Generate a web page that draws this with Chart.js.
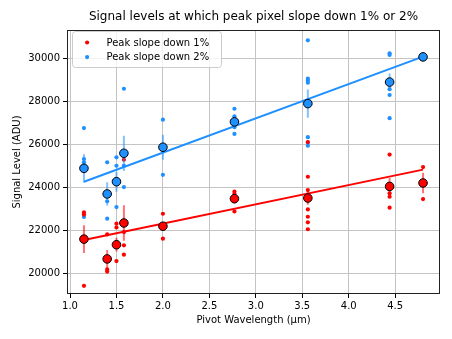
<!DOCTYPE html>
<html>
<head>
<meta charset="utf-8">
<script src="https://cdn.jsdelivr.net/npm/chart.js@4.4.0/dist/chart.umd.min.js"></script>
<style>
	html, body { margin: 0; padding: 0; background: #fff; }
</style>
</head>
<body>
<canvas id="main-chart" width="452" height="339"></canvas>
<script>
// pivot wavelength of each filter (um)
var pivot = [1.15, 1.40, 1.50, 1.58, 2.00, 2.77, 3.56, 4.44, 4.80];

// single measurements, one list per filter
var down1 = [
	[22850, 22750, 19440],
	[21830, 20200, 20100],
	[22330, 22150, 20590],
	[25300, 21940, 21320, 20890],
	[22790, 21630],
	[23820, 23720, 22900],
	[26120, 24510, 23890, 22990, 22650, 22390, 22070],
	[25540, 23740, 23580, 23070],
	[24960, 23470]
];
var down2 = [
	[26770, 25330, 25180, 22640],
	[25180, 23370, 22560],
	[25410, 25020, 23100],
	[28600, 25020, 24030],
	[27160, 24600],
	[27670, 27320, 26810, 26500],
	[30850, 29070, 28980, 28880, 26350, 26100, 25950],
	[30250, 30170, 28580, 28310, 27230],
	[30080]
];

// mean and spread per filter
var mean1 = [21610, 20690, 21350, 22360, 22210, 23490, 23520, 24060, 24220];
var err1 = [650, 420, 320, 830, 170, 220, 310, 390, 480];
var mean2 = [24900, 23710, 24280, 25600, 25880, 27060, 27910, 28910, 30080];
var err2 = [660, 540, 465, 820, 580, 200, 660, 400, 0];

// linear fits, given at first and last filter
var fitX = [1.15, 4.80];
var fit1 = [21570, 24840];
var fit2 = [24280, 30090];

var xTicks = [1.0, 1.5, 2.0, 2.5, 3.0, 3.5, 4.0, 4.5];
var yTicks = [20000, 22000, 24000, 26000, 28000, 30000];

var FONT = '"DejaVu Sans", sans-serif';

function points(xs, lists) {
	var out = [];
	xs.forEach(function(x, i) {
		lists[i].forEach(function(y) { out.push({x: x, y: y}); });
	});
	return out;
}

function bars(xs, ys, es) {
	var out = [];
	xs.forEach(function(x, i) {
		if (!es[i]) return;
		out.push({x: x, y: ys[i] - es[i]}, {x: x, y: ys[i] + es[i]}, {x: x, y: null});
	});
	return out;
}

function pairs(xs, ys) {
	return xs.map(function(x, i) { return {x: x, y: ys[i]}; });
}

// box round the plot area
var frame = {
	id: 'frame',
	afterDatasetsDraw: function(chart) {
		var a = chart.chartArea, ctx = chart.ctx;
		ctx.save();
		ctx.strokeStyle = '#222';
		ctx.lineWidth = 1;
		ctx.strokeRect(Math.round(a.left) + 0.5, Math.round(a.top) + 0.5,
			Math.round(a.right - a.left) - 1, Math.round(a.bottom - a.top) - 1);
		ctx.restore();
	}
};

// legend in upper left corner, like matplotlib
var legendBox = {
	id: 'legendBox',
	afterDraw: function(chart) {
		var a = chart.chartArea, ctx = chart.ctx;
		var x = a.left + 5.5, y = a.top + 1.5, w = 149, h = 36;
		ctx.save();
		ctx.fillStyle = 'rgba(255,255,255,0.8)';
		ctx.strokeStyle = '#cccccc';
		ctx.lineWidth = 1;
		ctx.beginPath();
		ctx.roundRect(x, y, w, h, 3);
		ctx.fill();
		ctx.stroke();
		ctx.font = '10px ' + FONT;
		ctx.textBaseline = 'middle';
		[0, 1].forEach(function(i) {
			var ds = chart.data.datasets[i];
			var cy = y + 11 + i * 14.6;
			ctx.fillStyle = ds.backgroundColor;
			ctx.beginPath();
			ctx.arc(x + 14.6, cy, 2.1, 0, Math.PI * 2);
			ctx.fill();
			ctx.fillStyle = '#000';
			ctx.fillText(ds.label, x + 34, cy + 0.5);
		});
		ctx.restore();
	}
};

var ctx = document.getElementById('main-chart');
var chart = new Chart(ctx, {
	type: 'scatter',
	data: {
		datasets: [
			{ label: 'Peak slope down 1%', data: points(pivot, down1), backgroundColor: 'red', borderWidth: 0, pointRadius: 2.1, order: 4 },
			{ label: 'Peak slope down 2%', data: points(pivot, down2), backgroundColor: '#1e90ff', borderWidth: 0, pointRadius: 2.1, order: 4 },
			{ label: 'err1', data: bars(pivot, mean1, err1), showLine: true, borderColor: 'rgba(255,0,0,0.55)', borderWidth: 2, pointRadius: 0, order: 3 },
			{ label: 'err2', data: bars(pivot, mean2, err2), showLine: true, borderColor: 'rgba(30,144,255,0.55)', borderWidth: 2, pointRadius: 0, order: 3 },
			{ label: 'fit1', data: pairs(fitX, fit1), showLine: true, borderColor: 'red', borderWidth: 2, pointRadius: 0, order: 2 },
			{ label: 'fit2', data: pairs(fitX, fit2), showLine: true, borderColor: '#1e90ff', borderWidth: 2, pointRadius: 0, order: 2 },
			{ label: 'mean1', data: pairs(pivot, mean1), backgroundColor: 'red', borderColor: '#000', borderWidth: 1, pointRadius: 4.3, order: 1 },
			{ label: 'mean2', data: pairs(pivot, mean2), backgroundColor: '#1e90ff', borderColor: '#000', borderWidth: 1, pointRadius: 4.3, order: 1 }
		]
	},
	options: {
		responsive: false,
		animation: false,
		devicePixelRatio: 1,
		layout: { padding: { left: 0, right: 12, top: 0, bottom: 0 } },
		plugins: {
			legend: { display: false },
			tooltip: { enabled: false },
			title: {
				display: true,
				fullSize: false,
				text: 'Signal levels at which peak pixel slope down 1% or 2%',
				color: '#000',
				font: { family: FONT, size: 12, weight: 'normal' },
				padding: { top: 9.8, bottom: 5.8 }
			}
		},
		scales: {
			x: {
				type: 'linear',
				min: 0.9675,
				max: 4.9825,
				afterBuildTicks: function(s) { s.ticks = xTicks.map(function(v) { return {value: v}; }); },
				afterFit: function(s) { s.height = 45; },
				border: { display: false },
				grid: { color: '#c4c4c4', lineWidth: 1, tickColor: '#000', tickLength: 4 },
				ticks: {
					color: '#000', padding: 2, maxRotation: 0,
					font: { family: FONT, size: 10 },
					callback: function(v) { return v.toFixed(1); }
				},
				title: {
					display: true, text: 'Pivot Wavelength (μm)', color: '#000',
					font: { family: FONT, size: 10 },
					padding: { top: 4, bottom: 13 }
				}
			},
			y: {
				type: 'linear',
				min: 19060,
				max: 31330,
				afterBuildTicks: function(s) { s.ticks = yTicks.map(function(v) { return {value: v}; }); },
				afterFit: function(s) { s.width = 67; },
				border: { display: false },
				grid: { color: '#c4c4c4', lineWidth: 1, tickColor: '#000', tickLength: 4 },
				ticks: {
					color: '#000', padding: 3,
					font: { family: FONT, size: 10 },
					callback: function(v) { return String(v); }
				},
				title: {
					display: true, text: 'Signal Level (ADU)', color: '#000',
					font: { family: FONT, size: 10 },
					padding: { top: 11, bottom: 0 }
				}
			}
		}
	},
	plugins: [frame, legendBox]
});
</script>
</body>
</html>
